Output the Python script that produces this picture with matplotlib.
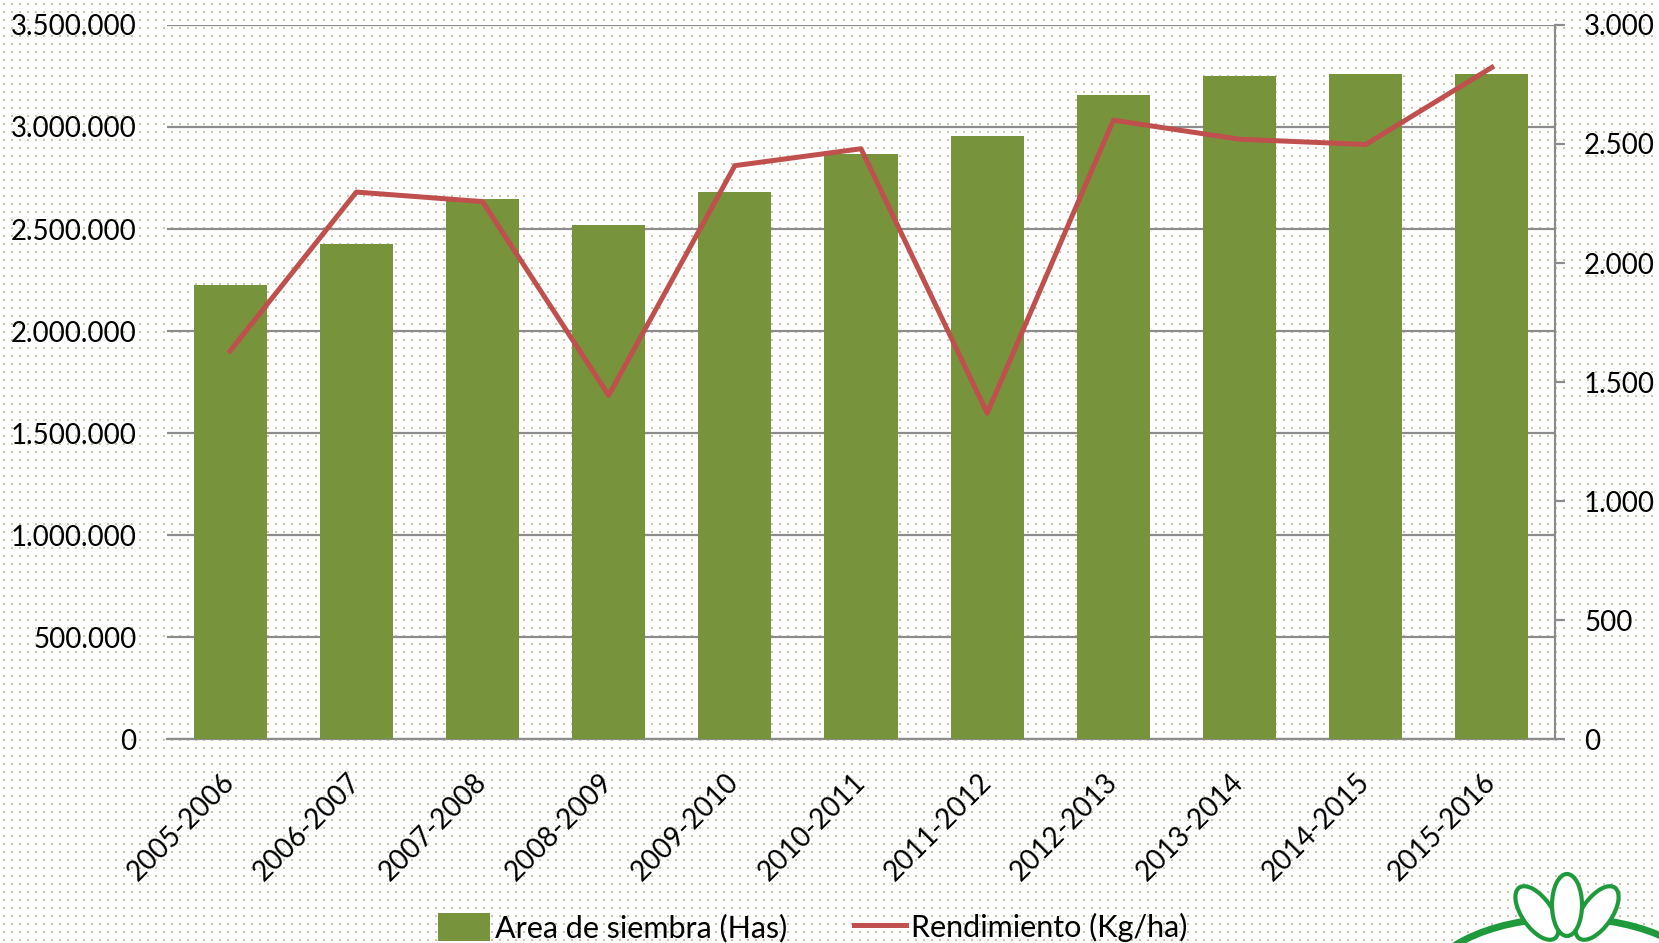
import numpy as np
import matplotlib.pyplot as plt
from matplotlib.patches import Ellipse
from matplotlib.transforms import IdentityTransform
from matplotlib.ticker import FuncFormatter, MultipleLocator

# datos
campanas = ["2005-2006", "2006-2007", "2007-2008", "2008-2009", "2009-2010",
            "2010-2011", "2011-2012", "2012-2013", "2013-2014", "2014-2015",
            "2015-2016"]
area_siembra = [2225000, 2427000, 2645000, 2520000, 2681000, 2868000,
                2956000, 3159000, 3252000, 3262000, 3262000]
rendimiento = [1631, 2298, 2258, 1444, 2409, 2480, 1369, 2600, 2520, 2498, 2822]

verde = "#77933C"
rojo = "#C0504D"
gris = "#8C8C8C"

plt.rcParams['font.family'] = ['Lato', 'DejaVu Sans']


def miles(v, pos):
    # separador de miles con punto
    return f"{int(v):,}".replace(",", ".")


W, H = 1659, 943
fig = plt.figure(figsize=(W / 100, H / 100), dpi=100)
fig.patch.set_facecolor("white")

# fondo punteado
fondo = np.ones((H, W, 3))
punto = np.array([204, 196, 168]) / 255
for dy in (0, 1):
    for dx in (0, 1):
        fondo[3 + dy::8, 3 + dx::8] = punto
fig.figimage(fondo, zorder=-1)

ax = fig.add_axes([0.1007, 0.2163, 0.8366, 0.7572])
ax.set_facecolor("none")
x = np.arange(len(campanas))
ax.bar(x, area_siembra, width=0.58, color=verde, zorder=3,
       label="Area de siembra (Has)")
ax.set_xlim(-0.5, len(campanas) - 0.5)
ax.set_ylim(0, 3500000)
ax.yaxis.set_major_locator(MultipleLocator(500000))
ax.yaxis.set_major_formatter(FuncFormatter(miles))
ax.grid(axis="y", color=gris, linewidth=1.6, zorder=0)
for s in ["top", "left", "right"]:
    ax.spines[s].set_visible(False)
ax.spines["bottom"].set_color(gris)
ax.spines["bottom"].set_linewidth(1.6)
ax.tick_params(axis="y", length=0, pad=22, labelsize=20)
ax.tick_params(axis="x", length=0, pad=28, labelsize=20)
ax.set_xticks(x)
ax.set_xticklabels(campanas, rotation=45, ha="right", va="center",
                   rotation_mode="anchor")

ax2 = ax.twinx()
ax2.plot(x, rendimiento, color=rojo, linewidth=3.6, zorder=4,
         label="Rendimiento (Kg/ha)")
ax2.set_ylim(0, 3000)
ax2.yaxis.set_major_locator(MultipleLocator(500))
ax2.yaxis.set_major_formatter(FuncFormatter(miles))
for s in ["top", "left", "bottom"]:
    ax2.spines[s].set_visible(False)
ax2.spines["right"].set_color(gris)
ax2.spines["right"].set_linewidth(1.6)
ax2.tick_params(axis="y", length=7, width=1.6, color=gris, pad=14, labelsize=20)

h1, l1 = ax.get_legend_handles_labels()
h2, l2 = ax2.get_legend_handles_labels()
fig.legend(h1 + h2, l1 + l2, loc="center", bbox_to_anchor=(0.49, 0.016),
           ncol=2, frameon=False, fontsize=22, handlelength=1.7,
           handleheight=1.0, handletextpad=0.15, columnspacing=2.2)

# logo recortado abajo a la derecha
verde_logo = "#1E9A3C"
logo = [Ellipse((1567, -50), 290, 150, facecolor="white", edgecolor=verde_logo, lw=5)]
for ang, cx, cy in [(35, 1537, 30), (-35, 1597, 30), (0, 1567, 38)]:
    logo.append(Ellipse((cx, cy), 30, 62, angle=ang, facecolor="white",
                        edgecolor=verde_logo, lw=3))
for p in logo:
    p.set_transform(IdentityTransform())
    fig.patches.append(p)

fig.savefig("out.png", dpi=100)
